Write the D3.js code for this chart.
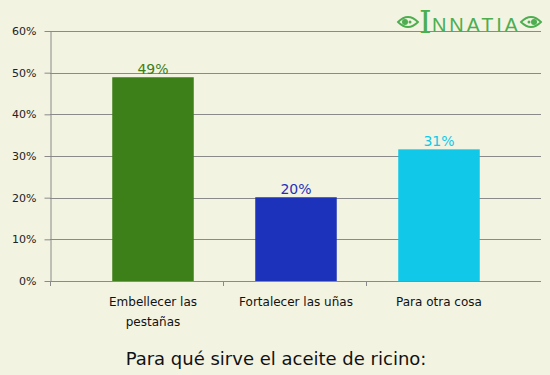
<!DOCTYPE html>
<html><head><meta charset="utf-8">
<script src="https://cdn.jsdelivr.net/npm/d3@7"></script>
<style>html,body{margin:0;padding:0;background:#f3f3e2;}</style>
</head><body>
<script>
const categories = [["Embellecer las","pestañas"],["Fortalecer las uñas"],["Para otra cosa"]];
const values = [48.9, 20.1, 31.6];
const valueLabels = ["49%","20%","31%"];
const colors = ["#3d7f19","#1d32ba","#12c8e8"];
const yTicks = [0,10,20,30,40,50,60];
const title = "Para qué sirve el aceite de ricino:";

const W=550,H=375;
const svg=d3.select("body").append("svg").attr("width",W).attr("height",H)
  .style("font-family","'DejaVu Sans', Verdana, sans-serif");
svg.append("rect").attr("width",W).attr("height",H).attr("fill","#f3f3e2");

const y=d3.scaleLinear().domain([0,60]).range([281,31]);
const x=d3.scaleBand().domain(d3.range(categories.length)).range([81.5,510.5]).paddingInner(0.43).paddingOuter(0.215);

// gridlines
svg.append("g").selectAll("line").data(yTicks.slice(1)).join("line")
  .attr("x1",50).attr("x2",541).attr("y1",d=>Math.round(y(d))+0.5).attr("y2",d=>Math.round(y(d))+0.5)
  .attr("stroke","#8a8a8a").attr("stroke-width",1);

// y axis
const yAxis=svg.append("g").attr("transform","translate(50.5,0)")
  .call(d3.axisLeft(y).tickValues(yTicks).tickFormat(d=>d+"%").tickSize(6).tickSizeOuter(0));
yAxis.select(".domain").attr("stroke","#8a8a8a");
yAxis.selectAll(".tick line").attr("stroke","#8a8a8a");
yAxis.selectAll(".tick text").attr("font-size",11).attr("fill","#222").attr("x",-14).attr("font-family","'DejaVu Sans', Verdana, sans-serif");
yAxis.append("line").attr("x1",0).attr("x2",0).attr("y1",281).attr("y2",286).attr("stroke","#8a8a8a");

// bars
svg.append("g").selectAll("rect").data(values).join("rect")
  .attr("x",(d,i)=>x(i)).attr("width",x.bandwidth())
  .attr("y",d=>y(d)).attr("height",d=>y(0)-y(d))
  .attr("fill",(d,i)=>colors[i]);

// x axis line & ticks
svg.append("line").attr("x1",50).attr("x2",541).attr("y1",281.5).attr("y2",281.5).attr("stroke","#8a8a8a");
const step=x.step();
svg.append("g").selectAll("line").data(d3.range(1,categories.length)).join("line")
  .attr("x1",i=>Math.round(x(i)-x.paddingInner()*step/2)-1.5).attr("x2",i=>Math.round(x(i)-x.paddingInner()*step/2)-1.5)
  .attr("y1",281).attr("y2",286).attr("stroke","#8a8a8a");

// value labels
svg.append("g").selectAll("text").data(values).join("text")
  .attr("x",(d,i)=>x(i)+x.bandwidth()/2).attr("y",d=>y(d)-3)
  .attr("text-anchor","middle").attr("font-size",14).attr("fill",(d,i)=>colors[i])
  .text((d,i)=>valueLabels[i]);

// category labels
const cl=svg.append("g");
categories.forEach((lines,i)=>{
  lines.forEach((t,j)=>{
    cl.append("text").attr("x",x(i)+x.bandwidth()/2).attr("y",306+j*20)
      .attr("text-anchor","middle").attr("font-size",12).attr("fill","#111").text(t);
  });
});

// title
svg.append("text").attr("x",276).attr("y",365).attr("text-anchor","middle")
  .attr("font-size",18).attr("fill","#111").text(title);

// logo
const lg=svg.append("g").attr("fill","#4cae4f");
lg.append("text").attr("x",419).attr("y",33).attr("font-size",32).attr("font-family","'DejaVu Serif', serif").text("I");
lg.append("text").attr("x",432).attr("y",32).attr("font-size",20).attr("font-family","'Liberation Sans', sans-serif").attr("letter-spacing",2.8).text("NNATIA");
[[408,-1],[531,1]].forEach(([cx,s])=>{
  lg.append("path").attr("d",`M${cx-s*10},22 Q${cx},12 ${cx+s*10},22 Q${cx},32 ${cx-s*10},22 Z`)
    .attr("fill","none").attr("stroke","#4cae4f").attr("stroke-width",1.8);
  lg.append("circle").attr("cx",cx+s*3).attr("cy",22).attr("r",3);
  lg.append("circle").attr("cx",cx-s*2).attr("cy",22).attr("r",1.5);
});
</script>
</body></html>
